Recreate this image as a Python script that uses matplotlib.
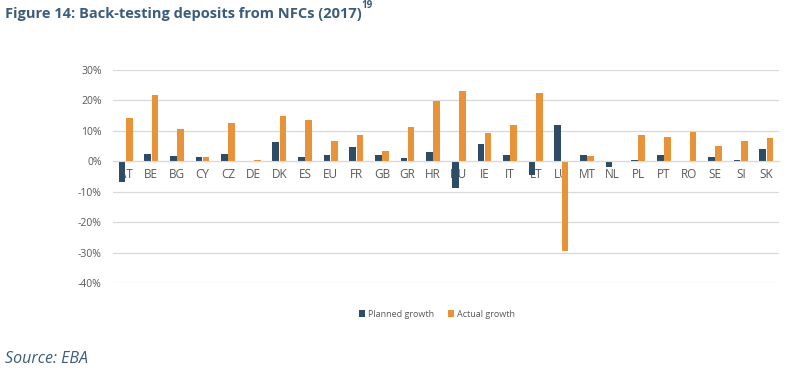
import matplotlib.pyplot as plt
import numpy as np

countries = ['AT', 'BE', 'BG', 'CY', 'CZ', 'DE', 'DK', 'ES', 'EU', 'FR', 'GB', 'GR', 'HR',
             'HU', 'IE', 'IT', 'LT', 'LU', 'MT', 'NL', 'PL', 'PT', 'RO', 'SE', 'SI', 'SK']
planned = [-6.9, 2.5, 1.8, 1.3, 2.5, 0.0, 6.5, 1.3, 2.2, 4.8, 2.2, 1.2, 3.0,
           -8.8, 5.8, 2.2, -4.5, 12.0, 2.2, -2.0, 0.5, 2.2, 0.0, 1.3, 0.5, 4.2]
actual = [14.3, 21.7, 10.7, 1.3, 12.7, 0.5, 15.0, 13.5, 6.6, 8.5, 3.3, 11.2, 19.8,
          23.2, 9.3, 11.8, 22.3, -29.5, 1.7, 0.0, 8.8, 8.1, 9.6, 5.0, 6.6, 7.6]
yticks = [30, 20, 10, 0, -10, -20, -30, -40]

blue = '#2E4C66'
orange = '#E8923A'
txt = '#595959'
title_col = '#3B5C7C'

plt.rcParams['font.family'] = ['Open Sans', 'DejaVu Sans']

fig = plt.figure(figsize=(8, 3.74), dpi=100)
ax = fig.add_axes([0.141, 0.243, 0.833, 0.570])

x = np.arange(len(countries))
w = 0.26
ax.bar(x - 0.14, planned, w, color=blue, label='Planned growth', zorder=3)
ax.bar(x + 0.14, actual, w, color=orange, label='Actual growth', zorder=3)

ax.set_xlim(-0.5, len(countries) - 0.5)
ax.set_ylim(-40, 30)
ax.set_yticks(yticks)
ax.set_yticklabels([f'{v}%' for v in yticks])
ax.yaxis.grid(True, color='#D9D9D9', linewidth=0.9, zorder=0)
ax.set_xticks(x)
ax.set_xticklabels(countries)
for s in ['top', 'right', 'left']:
    ax.spines[s].set_visible(False)
ax.spines['bottom'].set_position(('data', 0))
ax.spines['bottom'].set_color('#D9D9D9')
ax.spines['bottom'].set_zorder(4)
ax.tick_params(axis='x', length=0, pad=5, labelsize=8.5, labelcolor=txt)
ax.tick_params(axis='y', length=0, pad=8, labelsize=7.5, labelcolor=txt)

fig.legend(loc='center', bbox_to_anchor=(0.546, 0.160), ncol=2, frameon=False,
           fontsize=6.5, handlelength=0.7, handleheight=0.7, handletextpad=0.3,
           columnspacing=1.5, labelcolor=txt)

fig.text(0.006, 0.962, 'Figure 14: Back-testing deposits from NFCs (2017)', fontsize=10.5,
         fontweight='bold', color=title_col, va='center')
fig.text(0.452, 0.985, '19', fontsize=7, fontweight='bold', color=title_col, va='center')
fig.text(0.006, 0.04, 'Source: EBA', fontsize=11.5, style='italic', color=title_col, va='center')

fig.savefig('out.png', dpi=100)
